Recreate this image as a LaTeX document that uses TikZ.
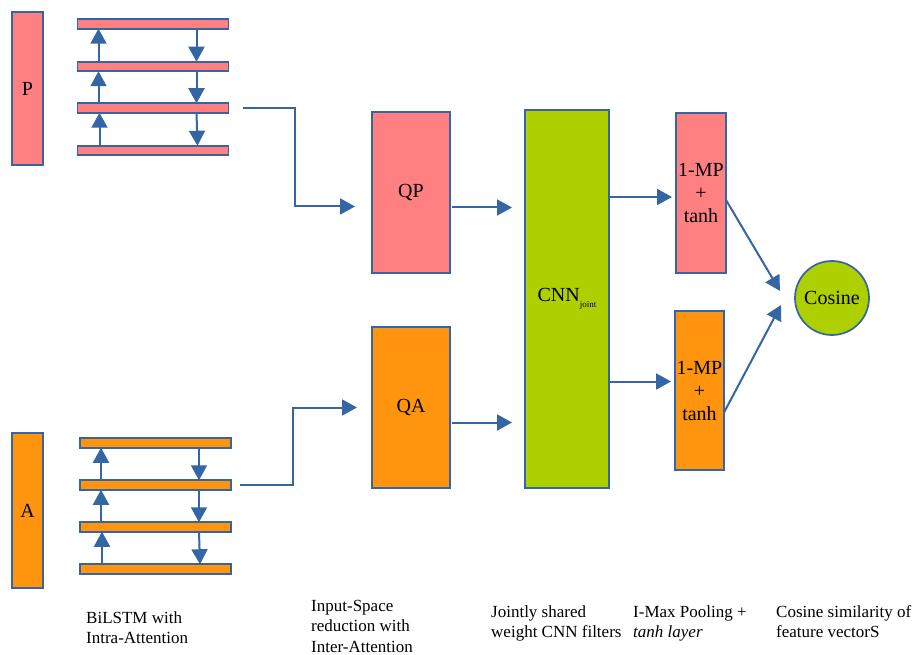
\documentclass[tikz,border=0pt]{standalone}
\usepackage{fontspec}
\setmainfont{Liberation Serif}
\usepackage{xcolor}
\usetikzlibrary{arrows.meta}
\definecolor{salmon}{HTML}{FF8080}
\definecolor{amber}{HTML}{FF950E}
\definecolor{lime}{HTML}{AECF00}
\definecolor{edgeblue}{HTML}{3465A4}
\newcommand{\notesize}{\fontsize{17}{20.5}\selectfont}

\begin{document}
\begin{tikzpicture}[
  x=1pt, y=-1pt,
  font=\fontsize{20}{23}\selectfont,
  box/.style   = {draw=edgeblue, line width=1.7pt, inner sep=0pt, outer sep=0pt,
                  align=center},
  pbox/.style  = {box, fill=salmon},
  abox/.style  = {box, fill=amber},
  gbox/.style  = {box, fill=lime},
  bar/.style   = {minimum width=151pt, minimum height=9.5pt},
  flow/.style  = {-{Triangle[length=15pt,width=16pt]}, draw=edgeblue, line width=2pt},
  note/.style  = {font=\notesize, align=left, anchor=north west, inner sep=0pt}
]
\useasboundingbox (0,0) rectangle (918,655);

%%%%%%%%%%%%%%%%%%%%%%% BiLSTM (P) %%%%%%%%%%%%%%%%%%%%%%%%%%%%%%%%%
\node[pbox, minimum width=31pt, minimum height=153pt] (P) at (27.5,88.5) {P};
\node[pbox, bar] (p1) at (153,24) {};
\node[pbox, bar] (p2) at (153,66.5) {};
\node[pbox, bar] (p3) at (153,108) {};
\node[pbox, bar] (p4) at (153,150.5) {};
\draw[flow] ([xshift=21pt]p2.north west) -- ([xshift=21pt]p1.south west);
\draw[flow] ([xshift=21pt]p3.north west) -- ([xshift=21pt]p2.south west);
\draw[flow] ([xshift=22pt]p4.north west) -- ([xshift=22pt]p3.south west);
\draw[flow] ([xshift=119pt]p1.south west) -- ([xshift=119pt]p2.north west);
\draw[flow] ([xshift=119pt]p2.south west) -- ([xshift=119pt]p3.north west);
\draw[flow] ([xshift=119pt]p3.south west) -- ([xshift=120pt]p4.north west);

%%%%%%%%%%%%%%%%%%%%%%% BiLSTM (A) %%%%%%%%%%%%%%%%%%%%%%%%%%%%%%%%%
\node[abox, minimum width=31pt, minimum height=155pt] (A) at (27.5,510.5) {A};
\node[abox, bar] (a1) at (155.5,443) {};
\node[abox, bar] (a2) at (155.5,485) {};
\node[abox, bar] (a3) at (155.5,527) {};
\node[abox, bar] (a4) at (155.5,569) {};
\draw[flow] ([xshift=21pt]a2.north west) -- ([xshift=21pt]a1.south west);
\draw[flow] ([xshift=21pt]a3.north west) -- ([xshift=21pt]a2.south west);
\draw[flow] ([xshift=22pt]a4.north west) -- ([xshift=22pt]a3.south west);
\draw[flow] ([xshift=119pt]a1.south west) -- ([xshift=119pt]a2.north west);
\draw[flow] ([xshift=119pt]a2.south west) -- ([xshift=119pt]a3.north west);
\draw[flow] ([xshift=119pt]a3.south west) -- ([xshift=120pt]a4.north west);

%%%%%%%%%%%%%%%%%%%%%%% INTER-ATTENTION + CNN %%%%%%%%%%%%%%%%%%%%%%%%%
\node[pbox, minimum width=78pt, minimum height=161pt] (qp) at (411,192.5) {QP};
\node[abox, minimum width=78pt, minimum height=161pt] (qa) at (411,407.5) {QA};
\node[gbox, minimum width=84pt, minimum height=378pt] (cnn) at (567,299)
      {CNN\raisebox{-6pt}{\fontsize{9}{9}\selectfont joint}};

\draw[flow, shorten <=14pt, shorten >=17pt] (p3.east) -- ++(66,0)
      |- ([yshift=-14pt]qp.west);
\draw[flow, shorten <=9pt, shorten >=15pt] (a2.east) -- ++(62,0) |- (qa.west);
\draw[flow, shorten <=2pt, shorten >=13pt] ([yshift=-15pt]qp.east)
      -- ([yshift=-15pt]qp.east -| cnn.west);
\draw[flow, shorten <=2pt, shorten >=13pt] ([yshift=-15pt]qa.east)
      -- ([yshift=-15pt]qa.east -| cnn.west);

%%%%%%%%%%%%%%%%%%%%%%% POOLING + COSINE %%%%%%%%%%%%%%%%%%%%%%%%%%%%%%
\node[pbox, minimum width=50pt, minimum height=160pt] (mp1) at (701,193)
      {1-MP\\+\\tanh};
\node[abox, minimum width=49pt, minimum height=159pt] (mp2) at (699.5,390.5)
      {1-MP\\+\\tanh};
\node[gbox, circle, minimum size=74pt] (cos) at (832,298) {Cosine};
\coordinate (cosin1) at (780,291);
\coordinate (cosin2) at (781,305);

\draw[flow, shorten <=1pt, shorten >=4pt] ([yshift=-4pt]cnn.east |- mp1.west)
      -- ([yshift=-4pt]mp1.west);
\draw[flow, shorten <=1pt, shorten >=4pt] ([yshift=9pt]cnn.east |- mp2.west)
      -- ([yshift=9pt]mp2.west);
\draw[flow] ([yshift=-7pt]mp1.east) -- (cosin1);
\draw[flow] ([yshift=-22pt]mp2.east) -- (cosin2);

%%%%%%%%%%%%%%%%%%%%%%% CAPTIONS %%%%%%%%%%%%%%%%%%%%%%%%%%%%%%%%%%%%%
\node[note] (n1) at (86,611) {BiLSTM with\\Intra-Attention};
\node[note] (n2) at (311,600) {Input-Space\\reduction with\\Inter-Attention};
\node[note] (n3) at (491,605) {Jointly shared\\weight CNN filters};
\node[note] (n4) at (633,605) {I-Max Pooling +\\\textit{tanh layer}};
\node[note] (n5) at (776,605) {Cosine similarity of\\feature vectorS};
\end{tikzpicture}
\end{document}
